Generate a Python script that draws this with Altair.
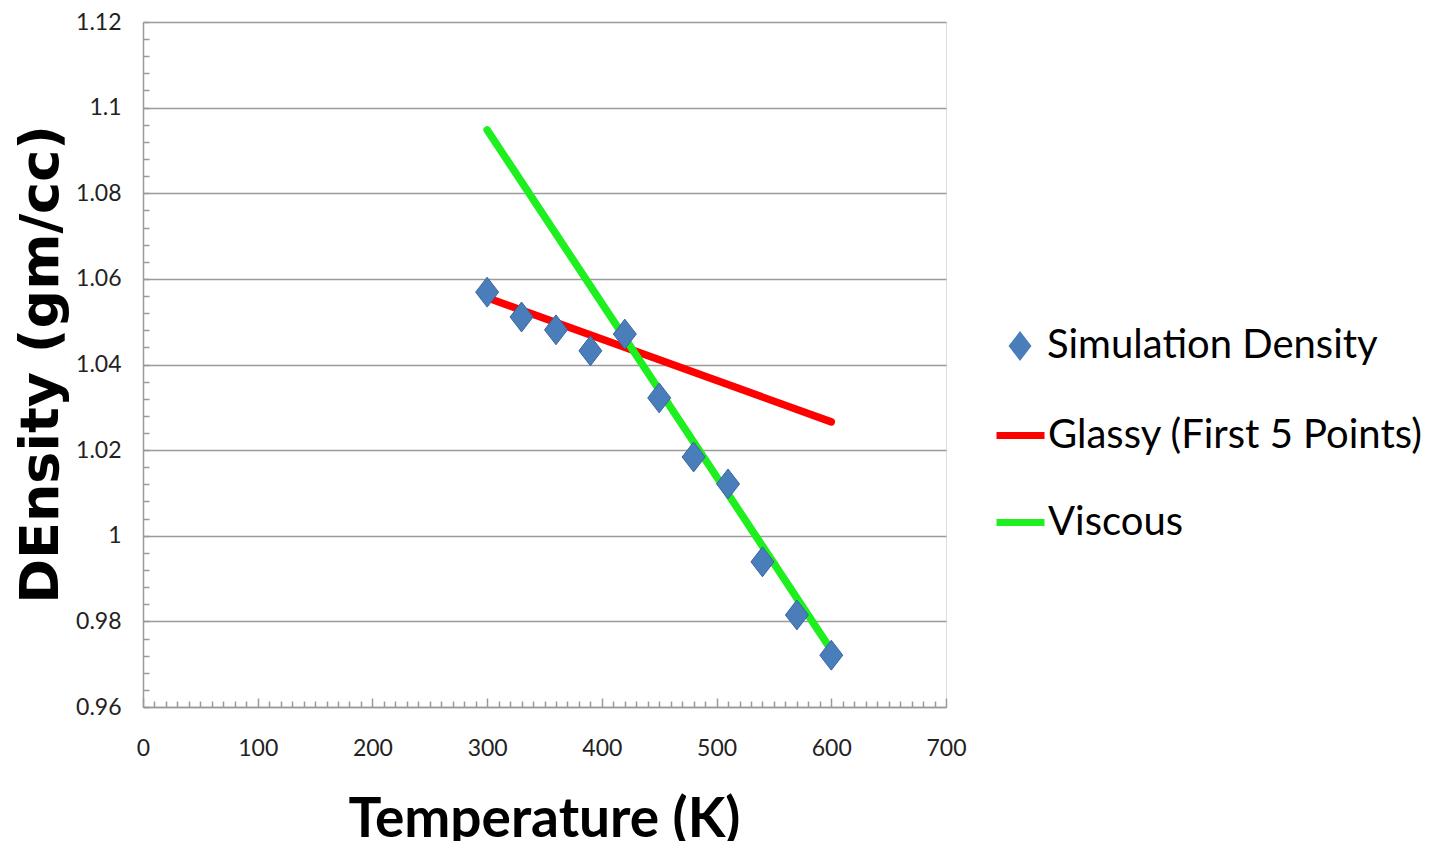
import altair as alt
import pandas as pd

# ---- data ----
temps = [300, 330, 360, 390, 420, 450, 480, 510, 540, 570, 600]
density = [1.0569, 1.0511, 1.0481, 1.0432, 1.0471, 1.0322, 1.0184, 1.0121, 0.9939, 0.9815, 0.9721]

glassy_T = [300, 600]
glassy_D = [1.0556, 1.0266]
viscous_T = [300, 600]
viscous_D = [1.0948, 0.9733]

point_name = "Simulation Density"
line_names = ["Glassy (First 5 Points)", "Viscous"]
line_colors = ["#FF0000", "#1EEF1E"]
POINT_FILL = "#4A7EBB"
POINT_EDGE = "#3A679F"
DIAMOND = "M0,-1.3L1,0L0,1.3L-1,0Z"

x_ticks = [0, 100, 200, 300, 400, 500, 600, 700]
x_minor = list(range(0, 701, 10))
y_ticks = [0.96, 0.98, 1.0, 1.02, 1.04, 1.06, 1.08, 1.1, 1.12]
y_minor = [round(0.96 + 0.004 * i, 3) for i in range(41)]

FONT = "Lato"
GRID = "#9A9A9A"

pts = pd.DataFrame({"T": temps, "D": density, "series": point_name})
lines = pd.DataFrame({
    "T": glassy_T + viscous_T,
    "D": glassy_D + viscous_D,
    "series": [line_names[0]] * 2 + [line_names[1]] * 2,
})

xscale = alt.Scale(domain=[0, 700], nice=False, zero=False)
yscale = alt.Scale(domain=[0.96, 1.12], nice=False, zero=False)

line_legend = alt.Legend(
    title=None, orient="none", legendX=850, legendY=386, padding=0,
    labelFont=FONT, labelFontSize=40, labelColor="black", labelLimit=700,
    labelOffset=0, symbolType="stroke", symbolSize=2304, symbolStrokeWidth=7,
    rowPadding=39,
)
point_legend = alt.Legend(
    title=None, orient="none", legendX=857, legendY=304, padding=0,
    labelFont=FONT, labelFontSize=40, labelColor="black", labelLimit=700,
    labelOffset=7, symbolSize=529, symbolFillColor=POINT_FILL,
    symbolStrokeColor=POINT_EDGE, symbolStrokeWidth=1,
)

line_layer = alt.Chart(lines).mark_line(strokeCap="round", strokeWidth=7.5).encode(
    x=alt.X("T:Q", scale=xscale, axis=alt.Axis(
        orient="top", offset=-685, values=x_minor, labels=False, domain=False,
        grid=False, title=None, tickColor=GRID, tickWidth=1.5,
        tickSize={"condition": {"test": "datum.value % 100 === 0", "value": 9}, "value": 6},
    )),
    y=alt.Y("D:Q", scale=yscale, axis=alt.Axis(
        orient="right", offset=-803, values=y_minor, labels=False, domain=False,
        grid=False, title=None, tickColor=GRID, tickWidth=1.5, tickSize=6,
    )),
    color=alt.Color("series:N", scale=alt.Scale(domain=line_names, range=line_colors), legend=line_legend),
)

point_layer = alt.Chart(pts).mark_point(
    filled=True, size=529, opacity=1, stroke=POINT_EDGE, strokeWidth=1,
).encode(
    x=alt.X("T:Q", scale=xscale, axis=alt.Axis(
        orient="bottom", values=x_ticks, format="d", grid=False, ticks=False, tickSize=0,
        domain=True, domainColor=GRID, domainWidth=1.5, labelFlush=False,
        labelFont=FONT, labelFontSize=23, labelColor="#222222", labelPadding=30,
        title="Temperature (K)", titleFont=FONT, titleFontSize=55, titleFontWeight="bold",
        titleColor="black", titleBaseline="alphabetic", titleY=129, titleX=401,
    )),
    y=alt.Y("D:Q", scale=yscale, axis=alt.Axis(
        orient="left", values=y_ticks, format=".3~g", grid=True, gridColor=GRID, gridWidth=1.5,
        ticks=False, tickSize=0, domain=True, domainColor=GRID, domainWidth=1.5, labelFlush=False,
        labelFont=FONT, labelFontSize=23, labelColor="#222222", labelPadding=22,
        title="DEnsity (gm/cc)", titleFont="DejaVu Sans", titleFontSize=54, titleFontWeight="bold",
        titleColor="black", titleBaseline="alphabetic", titleAngle=270, titleX=-86, titleY=342,
    )),
    color=alt.value(POINT_FILL),
    shape=alt.Shape("series:N", scale=alt.Scale(domain=[point_name], range=[DIAMOND]), legend=point_legend),
)

chart = alt.layer(line_layer, point_layer).resolve_axis(
    x="independent", y="independent"
).properties(
    width=803, height=685,
    autosize=alt.AutoSizeParams(type="none"),
    padding={"left": 135, "top": 14, "right": 477, "bottom": 134},
).configure_view(stroke=None).configure(background="white")

chart.save("out.html", embed_options={"renderer": "svg", "actions": False})
